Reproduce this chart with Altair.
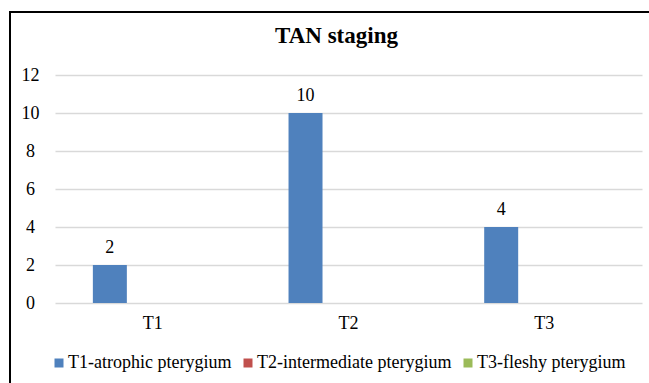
import altair as alt
import pandas as pd

categories = ["T1", "T2", "T3"]
series_names = ["T1-atrophic pterygium", "T2-intermediate pterygium", "T3-fleshy pterygium"]
t1_atrophic = [2, 10, 4]
t2_intermediate = [0, 0, 0]
t3_fleshy = [0, 0, 0]
series_colors = ["#4F81BD", "#C0504D", "#9BBB59"]
y_ticks = [0, 2, 4, 6, 8, 10, 12]

rows = []
for name, vals in zip(series_names, [t1_atrophic, t2_intermediate, t3_fleshy]):
    for cat, v in zip(categories, vals):
        rows.append({"stage": cat, "series": name, "count": v})
df = pd.DataFrame(rows)

FONT = "'Liberation Serif', 'Times New Roman', Times, serif"

x_enc = alt.X(
    "stage:N", sort=categories,
    scale=alt.Scale(paddingInner=0.387, paddingOuter=0.1935),
    axis=alt.Axis(title=None, labelAngle=0, labelFont=FONT, labelFontSize=18,
                  labelColor="#000000", ticks=False, domain=False, labelPadding=11),
)
xoff_enc = alt.XOffset(
    "series:N", sort=series_names,
    scale=alt.Scale(domain=series_names, paddingInner=0.209, paddingOuter=0),
)
y_enc = alt.Y(
    "count:Q",
    scale=alt.Scale(domain=[0, 12], nice=False),
    axis=alt.Axis(title=None, values=y_ticks, grid=True, gridColor="#D9D9D9",
                  gridWidth=1.5, domain=False, ticks=False, labelFont=FONT,
                  labelFontSize=18, labelColor="#000000", labelAlign="center",
                  labelPadding=25),
)

base = alt.Chart(df)

bars = base.mark_bar().encode(
    x=x_enc,
    xOffset=xoff_enc,
    y=y_enc,
    color=alt.Color(
        "series:N", sort=series_names,
        scale=alt.Scale(domain=series_names, range=series_colors),
        legend=alt.Legend(
            title=None, orient="none", legendX=-5, legendY=279,
            direction="horizontal", symbolType="square", symbolSize=81,
            symbolStrokeWidth=0, labelFont=FONT, labelFontSize=18,
            labelColor="#000000", labelOffset=0, columnPadding=7, padding=0,
            labelLimit=0,
        ),
    ),
)

labels = base.transform_filter(alt.datum.count > 0).mark_text(
    baseline="alphabetic", dy=-12, font=FONT, fontSize=18, color="#000000"
).encode(
    x=x_enc,
    xOffset=xoff_enc,
    y=y_enc,
    text=alt.Text("count:Q"),
)

frame = alt.Chart(alt.Data(values=[{"k": 1}])).mark_rect(
    fill="transparent", stroke="#000000", strokeWidth=2
).encode(
    x=alt.value(-45), x2=alt.value(900), y=alt.value(-63), y2=alt.value(600)
)

chart = alt.layer(bars, labels, frame).properties(
    width=587,
    height=228,
    title=alt.Title(
        "TAN staging", font=FONT, fontSize=23, fontWeight="bold",
        color="#000000", anchor="middle", frame="group", dx=-12,
        offset=-55, baseline="alphabetic",
    ),
    padding={"left": 55, "top": 75, "right": 7, "bottom": 80},
    autosize=alt.AutoSizeParams(type="none"),
    background="#FFFFFF",
).configure_view(stroke=None)

chart.save("out.html", embed_options={"renderer": "svg", "actions": False})
